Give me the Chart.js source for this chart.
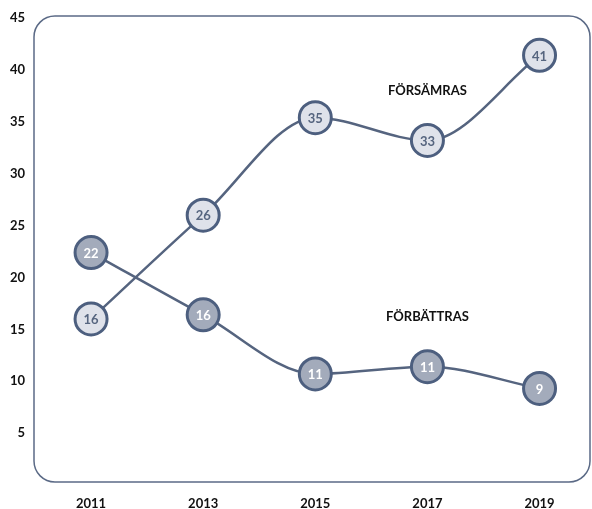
<!DOCTYPE html>
<html>
<head>
<meta charset="utf-8">
<script src="https://cdn.jsdelivr.net/npm/chart.js@4"></script>
<style>
  html, body { margin: 0; padding: 0; background: #fff; overflow: hidden; }
  canvas { display: block; }
</style>
</head>
<body>
<canvas id="chart" width="592" height="509"></canvas>
<script>
// values
const years = [2011, 2013, 2015, 2017, 2019];
const forsamras = [16.0, 26.0, 35.4, 33.2, 41.4];
const forbattras = [22.4, 16.4, 10.7, 11.4, 9.3];
const yTicks = [5, 10, 15, 20, 25, 30, 35, 40, 45];

// series name labels, placed in data units
const seriesNames = ['FÖRSÄMRAS', 'FÖRBÄTTRAS'];
const namePos = [[2017, 38.0], [2017, 16.2]];

const lineColor = '#55647f';
const borderColor = '#4d5f7f';
const font = 'Lato, "Open Sans", sans-serif';

const toPoints = vals => vals.map((v, i) => ({ x: years[i], y: v }));

// rounded frame around the plot
const framePlugin = {
    id: 'frame',
    beforeDatasetsDraw(chart) {
        const ca = chart.chartArea;
        const ctx = chart.ctx;
        const l = ca.left - 1, t = ca.top - 2, r = ca.right, b = ca.bottom - 3;
        ctx.save();
        ctx.strokeStyle = '#5b6a86';
        ctx.lineWidth = 1.5;
        ctx.beginPath();
        ctx.roundRect(l, t, r - l, b - t, 21);
        ctx.stroke();
        ctx.restore();
    }
};

// numbers inside markers and series names
const labelPlugin = {
    id: 'labels',
    afterDatasetsDraw(chart) {
        const ctx = chart.ctx;
        ctx.save();
        ctx.textAlign = 'center';
        ctx.textBaseline = 'middle';
        ctx.font = 'bold 13px ' + font;
        chart.data.datasets.forEach((ds, di) => {
            const meta = chart.getDatasetMeta(di);
            ctx.fillStyle = di === 0 ? '#56657f' : '#ffffff';
            meta.data.forEach((pt, i) => {
                ctx.fillText(Math.round(ds.data[i].y), pt.x, pt.y + 1);
            });
        });
        ctx.font = 'bold 13px ' + font;
        ctx.fillStyle = '#111111';
        const xs = chart.scales.x, ys = chart.scales.y;
        seriesNames.forEach((name, i) => {
            ctx.fillText(name, xs.getPixelForValue(namePos[i][0]), ys.getPixelForValue(namePos[i][1]));
        });
        ctx.restore();
    }
};

new Chart(document.getElementById('chart'), {
    type: 'line',
    data: {
        datasets: [
            {
                label: seriesNames[0],
                data: toPoints(forsamras),
                borderColor: lineColor,
                borderWidth: 2.5,
                tension: 0.4,
                cubicInterpolationMode: 'monotone',
                pointRadius: 16,
                pointBorderWidth: 3,
                pointBackgroundColor: '#dfe2ea',
                pointBorderColor: borderColor
            },
            {
                label: seriesNames[1],
                data: toPoints(forbattras),
                borderColor: lineColor,
                borderWidth: 2.5,
                tension: 0.4,
                cubicInterpolationMode: 'monotone',
                pointRadius: 16,
                pointBorderWidth: 3,
                pointBackgroundColor: '#a3abbb',
                pointBorderColor: borderColor
            }
        ]
    },
    options: {
        responsive: false,
        animation: false,
        devicePixelRatio: 1,
        // big markers would otherwise reserve extra room on the right
        layout: { autoPadding: false, padding: { top: 18, right: 2, left: 0, bottom: 0 } },
        plugins: {
            legend: { display: false },
            tooltip: { enabled: false }
        },
        scales: {
            x: {
                type: 'linear',
                min: 2010,
                max: 2019.9,
                grid: { display: false, drawTicks: false },
                border: { display: false },
                afterBuildTicks: scale => { scale.ticks = years.map(v => ({ value: v })); },
                afterFit: scale => {
                    scale.height = 24;
                    scale.paddingLeft = 0;
                    scale.paddingRight = 0;
                },
                ticks: {
                    padding: 11,
                    color: '#111111',
                    font: { family: font, size: 13, weight: 'bold' },
                    callback: v => String(v)
                }
            },
            y: {
                min: 0,
                max: 45,
                grid: { display: false, drawTicks: false },
                border: { display: false },
                afterBuildTicks: scale => { scale.ticks = yTicks.map(v => ({ value: v })); },
                afterFit: scale => {
                    scale.width = 35;
                    scale.paddingTop = 0;
                    scale.paddingBottom = 0;
                },
                ticks: {
                    padding: 10,
                    color: '#111111',
                    font: { family: font, size: 13, weight: 'bold' }
                }
            }
        }
    },
    plugins: [framePlugin, labelPlugin]
});
</script>
</body>
</html>
